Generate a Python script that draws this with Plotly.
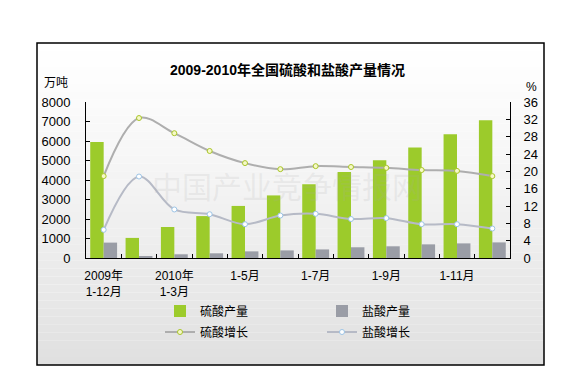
import plotly.graph_objects as go

# ---------------- data ----------------
categories = ["2009年<br>1-12月", "1-2月", "2010年<br>1-3月", "1-4月", "1-5月", "1-6月",
              "1-7月", "1-8月", "1-9月", "1-10月", "1-11月", "1-12月"]
tick_labels = ["2009年<br>1-12月", "", "2010年<br>1-3月", "", "1-5月", "",
               "1-7月", "", "1-9月", "", "1-11月", ""]
sulfuric_output = [5950, 1030, 1590, 2150, 2670, 3210, 3780, 4410, 5010, 5670, 6340, 7060]
hydro_output = [790, 90, 190, 240, 340, 390, 440, 550, 600, 700, 750, 800]
sulfuric_growth = [18.9, 32.3, 28.8, 24.7, 21.9, 20.5, 21.2, 21.0, 20.8, 20.3, 20.1, 18.9]
hydro_growth = [6.5, 18.8, 11.2, 10.1, 7.8, 9.8, 10.2, 9.0, 9.2, 7.8, 7.8, 6.8]
left_ticks = [0, 1000, 2000, 3000, 4000, 5000, 6000, 7000, 8000]
right_ticks = [0, 4, 8, 12, 16, 20, 24, 28, 32, 36]

FONT = "Liberation Sans, Noto Sans CJK SC, sans-serif"
W, H = 573, 380
L, R, T, B = 86, 510, 102, 258  # plot area in px


def px_x(x):
    return (x - L) / (R - L)


def px_y(y):
    return (B - y) / (B - T)


fig = go.Figure()
fig.add_trace(go.Bar(x=categories, y=sulfuric_output, name="硫酸产量",
                     marker=dict(color="#9ccb2b", line=dict(width=0)), legend="legend"))
fig.add_trace(go.Bar(x=categories, y=hydro_output, name="盐酸产量",
                     marker=dict(color="#9a9da6", line=dict(width=0)), legend="legend2"))
fig.add_trace(go.Scatter(x=categories, y=sulfuric_growth, name="硫酸增长", yaxis="y2",
                         mode="lines+markers", line=dict(color="#aeaeae", width=2, shape="spline", smoothing=1),
                         marker=dict(size=5, color="#f6f9c8", line=dict(color="#a9c52a", width=1)),
                         legend="legend3"))
fig.add_trace(go.Scatter(x=categories, y=hydro_growth, name="盐酸增长", yaxis="y2",
                         mode="lines+markers", line=dict(color="#b6bac6", width=2, shape="spline", smoothing=1),
                         marker=dict(size=5, color="#ffffff", line=dict(color="#9cc4e6", width=1)),
                         legend="legend4"))

# background gradient frame
shapes = []
fy0, fy1 = 43, 365
fx0, fx1 = 37, 544
N = 40
for i in range(N):
    ya = fy0 + (fy1 - fy0) * i / N
    yb = fy0 + (fy1 - fy0) * (i + 1) / N
    t = (i + 0.5) / N
    g = int(round(255 - (255 - 224) * t ** 1.2))
    shapes.append(dict(type="rect", xref="paper", yref="paper", layer="below",
                       x0=px_x(fx0), x1=px_x(fx1), y0=px_y(yb), y1=px_y(ya),
                       fillcolor=f"rgb({g},{g},{g})", line=dict(width=0)))
shapes.append(dict(type="rect", xref="paper", yref="paper", layer="above",
                   x0=px_x(fx0), x1=px_x(fx1), y0=px_y(fy1), y1=px_y(fy0),
                   fillcolor="rgba(0,0,0,0)", line=dict(color="#000000", width=1.5)))

ann_common = dict(xref="paper", yref="paper", showarrow=False, xanchor="center", yanchor="middle")
annotations = [
    dict(text="中国产业竞争情报网", x=px_x(287), y=px_y(185),
         font=dict(family="Noto Sans CJK SC", size=30, color="rgba(170,170,170,0.17)"), **ann_common),
    dict(text="万吨", x=px_x(56), y=px_y(83), font=dict(family=FONT, size=12, color="#000"), **ann_common),
    dict(text="%", x=px_x(531), y=px_y(87), font=dict(family=FONT, size=12, color="#000"), **ann_common),
    dict(text="<b>2009-2010年全国硫酸和盐酸产量情况</b>", x=px_x(287), y=px_y(70),
         font=dict(family=FONT, size=14, color="#000"), **ann_common),
]

leg_common = dict(orientation="h", xanchor="left", yanchor="middle", bgcolor="rgba(0,0,0,0)",
                  font=dict(family=FONT, size=12, color="#000"))

fig.update_layout(
    width=W, height=H,
    margin=dict(l=L, r=W - R, t=T, b=H - B, pad=0, autoexpand=False),
    paper_bgcolor="#ffffff", plot_bgcolor="rgba(0,0,0,0)",
    font=dict(family=FONT, size=12, color="#000"),
    barmode="group", bargap=0.24, bargroupgap=0.0,
    showlegend=True,
    legend=dict(x=px_x(160), y=px_y(311), **leg_common),
    legend2=dict(x=px_x(322), y=px_y(311), **leg_common),
    legend3=dict(x=px_x(160), y=px_y(332), **leg_common),
    legend4=dict(x=px_x(322), y=px_y(332), **leg_common),
    xaxis=dict(type="category", tickmode="array", tickvals=categories, ticktext=tick_labels,
               range=[-0.5, len(categories) - 0.5], autorange=False,
               tickangle=0, automargin=False, ticklabelstandoff=7,
               showline=True, linecolor="#000", linewidth=1, ticks="inside", ticklen=4,
               tickcolor="#000", tickson="boundaries", showgrid=False, zeroline=False,
               tickfont=dict(family=FONT, size=12, color="#000")),
    yaxis=dict(range=[0, 8000], tickvals=left_ticks, showline=True, linecolor="#000", linewidth=1,
               automargin=False,
               ticks="inside", ticklen=4, tickcolor="#000", showgrid=False, zeroline=False,
               ticklabelstandoff=12, tickfont=dict(family=FONT, size=13, color="#000")),
    yaxis2=dict(range=[0, 36], tickvals=right_ticks, overlaying="y", side="right", showline=True,
                automargin=False,
                linecolor="#000", linewidth=1, ticks="inside", ticklen=4, tickcolor="#000",
                showgrid=False, zeroline=False, ticklabelstandoff=10,
                tickfont=dict(family=FONT, size=13, color="#000")),
    shapes=shapes, annotations=annotations,
)

fig.write_html("out.html", config={"displayModeBar": False},
               post_script="document.body.style.margin='0';document.body.style.overflow='hidden';")
